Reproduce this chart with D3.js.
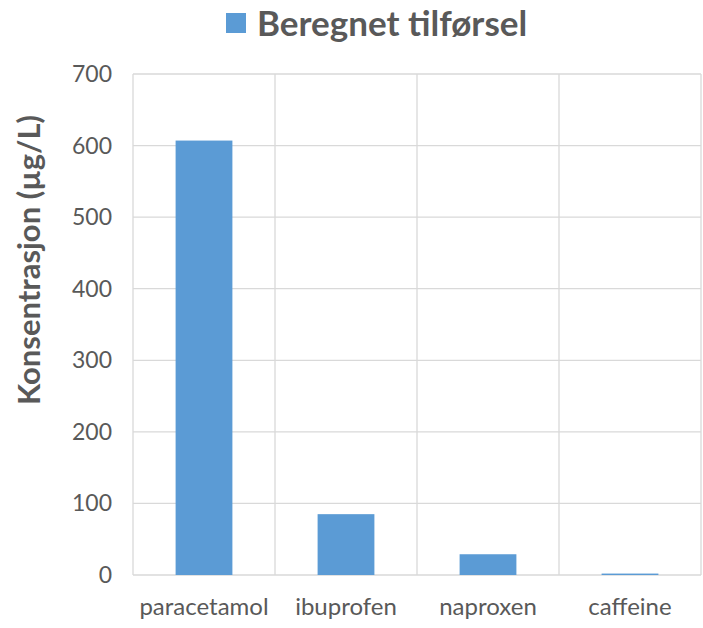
<!DOCTYPE html>
<html lang="no">
<head>
    <meta charset="UTF-8">
    <title>Beregnet tilførsel</title>
    <script src="https://d3js.org/d3.v7.min.js"></script>
    <style>
        body{ margin:0; background:#fff; }
        svg text{ font-family: Lato, "Open Sans", sans-serif; fill:#595959; }
    </style>
</head>
<body>
<script>
    const categories = ["paracetamol","ibuprofen","naproxen","caffeine"];
    const values = [607, 85, 29, 2];
    const yTicks = [0,100,200,300,400,500,600,700];
    const seriesName = "Beregnet tilførsel";
    const yTitle = "Konsentrasjon (µg/L)";

    const w = 703, h = 628;
    const margin = {left:133, right:2, top:74, bottom:53};
    const color = "#5b9bd5";

    const svg = d3.select("body").append("svg").attr("width",w).attr("height",h);

    const x = d3.scaleBand().domain(categories)
        .range([margin.left, w - margin.right])
        .paddingInner(0.6).paddingOuter(0.3);
    const y = d3.scaleLinear().domain([0,700]).range([h - margin.bottom, margin.top]);

    // horizontal grid
    svg.append("g").selectAll("line").data(yTicks).enter().append("line")
        .attr("x1",margin.left).attr("x2",w - margin.right)
        .attr("y1",d => y(d)).attr("y2",d => y(d))
        .attr("stroke","#d9d9d9").attr("stroke-width",1.3);

    // vertical category separators
    const step = x.step();
    const seps = d3.range(categories.length + 1).map(i => margin.left + i*step);
    svg.append("g").selectAll("line").data(seps).enter().append("line")
        .attr("x1",d => d).attr("x2",d => d)
        .attr("y1",margin.top).attr("y2",h - margin.bottom)
        .attr("stroke","#d9d9d9").attr("stroke-width",1.3);

    // bars
    svg.append("g").selectAll("rect").data(values).enter().append("rect")
        .attr("x",(d,i) => x(categories[i]))
        .attr("width",x.bandwidth())
        .attr("y",d => y(d))
        .attr("height",d => y(0) - y(d))
        .attr("fill",color);

    // y tick labels
    svg.append("g").selectAll("text").data(yTicks).enter().append("text")
        .attr("x",margin.left - 21).attr("y",d => y(d))
        .attr("dy","0.35em").attr("text-anchor","end")
        .style("font-size","23px")
        .text(d => d);

    // x labels
    svg.append("g").selectAll("text").data(categories).enter().append("text")
        .attr("x",d => x(d) + x.bandwidth()/2).attr("y",h - 13)
        .attr("text-anchor","middle")
        .style("font-size","24px")
        .text(d => d);

    // y title
    svg.append("text")
        .attr("transform","translate(40,260) rotate(-90)")
        .attr("text-anchor","middle")
        .style("font-size","31px").style("font-weight","bold")
        .text(yTitle);

    // legend
    const lg = svg.append("g");
    lg.append("rect").attr("x",226).attr("y",13).attr("width",20).attr("height",20).attr("fill",color);
    lg.append("text").attr("x",257).attr("y",36)
        .style("font-size","35px").style("font-weight","bold")
        .text(seriesName);
</script>
</body>
</html>
